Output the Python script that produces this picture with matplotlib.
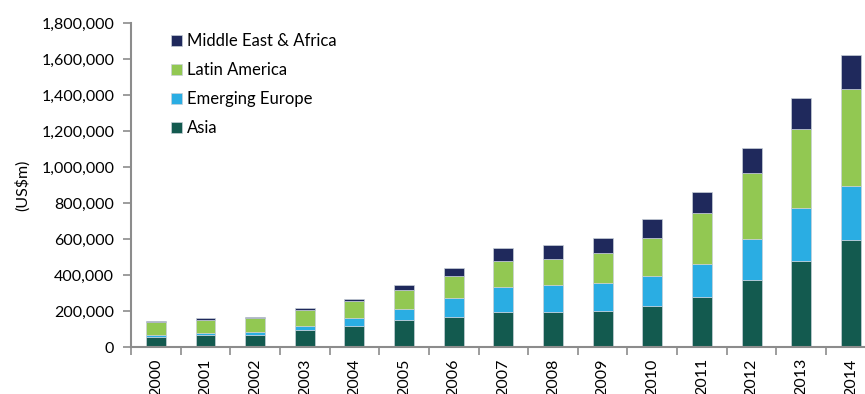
import numpy as np
import matplotlib.pyplot as plt
from matplotlib.ticker import FuncFormatter, FixedLocator

years = [str(y) for y in range(2000, 2015)]
asia = [57, 67, 68, 96, 118, 148, 170, 193, 193, 198, 230, 280, 374, 481, 596]
emerging_europe = [11, 9, 17, 22, 43, 65, 104, 140, 153, 159, 168, 183, 228, 293, 297]
latin_america = [73, 76, 78, 89, 95, 105, 120, 148, 141, 165, 211, 283, 365, 441, 544]
middle_east_africa = [5, 9, 7, 11, 12, 25, 45, 71, 80, 85, 102, 115, 142, 168, 185]

plt.rcParams['font.family'] = ['Lato', 'DejaVu Sans']

fig = plt.figure(figsize=(8.65, 3.94), dpi=100)
ax = fig.add_axes([0.1514, 0.119, 0.861, 0.822])

x = np.arange(len(years))
series = [
    ('Asia', asia, '#135a4f'),
    ('Emerging Europe', emerging_europe, '#2aade3'),
    ('Latin America', latin_america, '#92c852'),
    ('Middle East & Africa', middle_east_africa, '#1f295c'),
]
bottom = np.zeros(len(years))
handles = []
for name, vals, color in series:
    v = np.array(vals) * 1000.0
    b = ax.bar(x, v, 0.4, bottom=bottom, color=color, edgecolor='#c8d0d8',
               linewidth=0.5, label=name, zorder=2)
    handles.append(b)
    bottom += v

ax.set_xlim(-0.5, len(years) - 0.5)
ax.set_ylim(0, 1800000)
ax.set_yticks(np.arange(0, 1800001, 200000))
ax.yaxis.set_major_formatter(FuncFormatter(lambda v, p: f'{int(v):,}'))
ax.set_xticks(x)
ax.set_xticklabels(years, rotation=90)
ax.xaxis.set_minor_locator(FixedLocator(np.arange(-0.5, len(years), 1.0)))
ax.tick_params(axis='x', which='major', length=0, pad=8, labelsize=11.5, colors='black')
ax.tick_params(axis='x', which='minor', length=6, width=1.2, color='#8c8c8c', direction='out')
ax.tick_params(axis='y', length=6, width=1.2, color='#8c8c8c', labelsize=11.5, pad=6)

for s in ['top', 'right']:
    ax.spines[s].set_visible(False)
for s in ['left', 'bottom']:
    ax.spines[s].set_color('#8c8c8c')
    ax.spines[s].set_linewidth(1.5)

ax.set_ylabel('(US$m)', fontsize=11.5, labelpad=8)

leg = ax.legend(handles[::-1], [h.get_label() for h in handles[::-1]],
                loc='upper left', bbox_to_anchor=(0.04, 1.0), frameon=False,
                fontsize=12, handlelength=0.7, handleheight=0.7,
                handletextpad=0.3, labelspacing=0.78, borderaxespad=0.2)

fig.savefig('out.png', dpi=100)
